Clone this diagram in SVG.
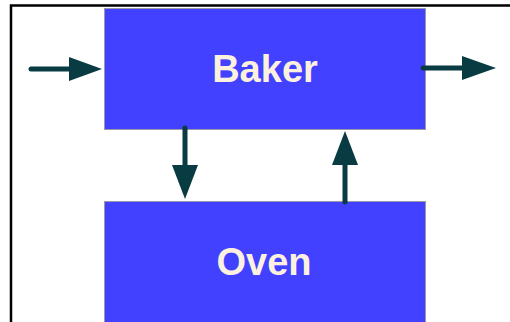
<svg xmlns="http://www.w3.org/2000/svg" width="510" height="322" viewBox="0 0 510 322">
<style>
.box{fill:#4141FF;stroke:#9a9aa6;stroke-width:1}
.lbl{font-family:"Liberation Sans",Arial,sans-serif;font-weight:bold;font-size:38px;fill:#FCF1DE;text-anchor:middle}
.conn{stroke:#083B42;stroke-width:5;stroke-linecap:round;fill:none}
.head{fill:#083B42}
</style>
<rect width="510" height="322" fill="#fff"/>
<path d="M11 322 V5.5 H510" fill="none" stroke="#000" stroke-width="2.5"/>
<g id="baker">
<rect class="box" x="104.5" y="8.5" width="321" height="121"/>
<text class="lbl" x="265" y="82">Baker</text>
</g>
<g id="oven">
<rect class="box" x="104.5" y="201.5" width="321" height="130"/>
<text class="lbl" x="264" y="275">Oven</text>
</g>
<g id="connectors">
<line class="conn" x1="31" y1="69" x2="72" y2="69"/>
<polygon class="head" points="69,57 102,69 69,81"/>
<line class="conn" x1="423" y1="68" x2="465" y2="68"/>
<polygon class="head" points="462,56 496,68 462,80"/>
<line class="conn" x1="185" y1="128" x2="185" y2="168"/>
<polygon class="head" points="172,165 198,165 185,199"/>
<line class="conn" x1="345" y1="202" x2="345" y2="162"/>
<polygon class="head" points="332,165 358,165 345,131"/>
</g>
</svg>
